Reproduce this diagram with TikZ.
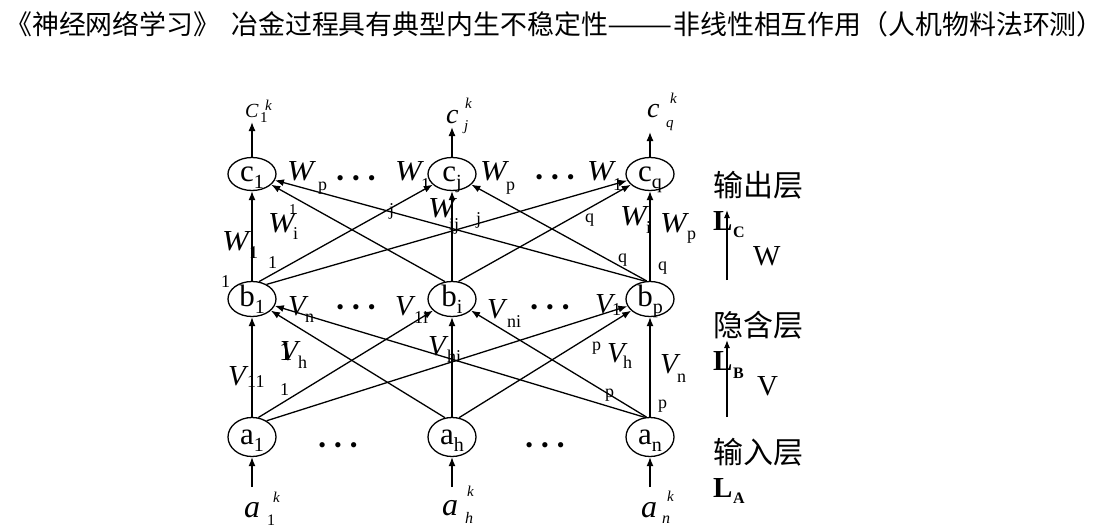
\documentclass[tikz,border=0pt]{standalone}
\usepackage{fontspec}
\usepackage{graphicx}
\setmainfont{Liberation Serif}
\newfontfamily\cjk{Noto Sans CJK SC}
\usetikzlibrary{shapes.geometric,arrows.meta}
\newcommand{\lsub}[1]{\raisebox{-0.25em}{\fontsize{20}{22}\selectfont #1}}
\newcommand{\tridots}{\textbullet\hspace{8pt}\textbullet\hspace{8pt}\textbullet}
\newcommand{\WW}{\scalebox{1.1}[1]{W}}
\begin{document}
\begin{tikzpicture}[x=1pt,y=-1pt,
  neuron/.style={ellipse, draw, line width=1.3pt, minimum width=48pt, minimum height=35pt,
    inner sep=0pt, text height=14pt, text depth=0pt, font=\fontsize{31}{33}\selectfont},
  conn/.style={line width=1.3pt, -{Latex[length=9pt,width=7pt]}},
  wl/.style={anchor=base west, inner sep=0pt, font=\fontsize{29}{31}\selectfont\itshape},
  sl/.style={anchor=base west, inner sep=0pt, font=\fontsize{18}{20}\selectfont},
  kl/.style={anchor=base west, inner sep=0pt, font=\fontsize{15}{17}\selectfont\itshape},
  ul/.style={anchor=base west, inner sep=0pt, font=\fontsize{15}{17}\selectfont},
  dl/.style={inner sep=0pt, font=\fontsize{22}{24}\selectfont},
  cjl/.style={anchor=west, inner sep=0pt, font=\cjk\fontsize{30}{32}\selectfont},
  bl/.style={anchor=base west, inner sep=0pt, font=\fontsize{29}{31}\selectfont\bfseries},
  bsl/.style={anchor=base west, inner sep=0pt, font=\fontsize{16}{18}\selectfont\bfseries},
  rl/.style={anchor=base west, inner sep=0pt, font=\fontsize{29}{31}\selectfont}]
\useasboundingbox (0,0) rectangle (1104,528);

% title
\node[anchor=west, inner sep=0pt, font=\cjk\fontsize{26.9}{29}\selectfont] (title) at (5,24)
  {《神经网络学习》\hspace{11pt}冶金过程具有典型内生不稳定性\scalebox{1.45}[1]{——}非线性相互作用（人机物料法环测）};

% neurons
\node[neuron, minimum height=33pt] (c1) at (252,174) {c\lsub{1}};
\node[neuron, minimum height=33pt] (cj) at (452,174) {c\lsub{j}};
\node[neuron, minimum height=33pt] (cq) at (650,174) {c\lsub{q}};
\node[neuron] (b1) at (252,299) {b\lsub{1}};
\node[neuron] (bi) at (452,299) {b\lsub{i}};
\node[neuron] (bp) at (650,299) {b\lsub{p}};
\node[neuron, minimum height=39pt] (a1) at (252,437) {a\lsub{1}};
\node[neuron, minimum height=39pt] (ah) at (452,437) {a\lsub{h}};
\node[neuron, minimum height=39pt] (an) at (650,437) {a\lsub{n}};

% free ends
\coordinate (o1) at (252,122);
\coordinate (oj) at (452,127);
\coordinate (oq) at (650,132);
\coordinate (i1) at (252,487);
\coordinate (ih) at (452,487);
\coordinate (in) at (650,487);

\draw[conn] (c1) -- (o1);
\draw[conn] (cj) -- (oj);
\draw[conn] (cq) -- (oq);
\draw[conn] (i1) -- (a1);
\draw[conn] (ih) -- (ah);
\draw[conn] (in) -- (an);

% input -> hidden
\draw[conn] (a1) -- (b1);
\draw[conn] (a1.72) -- (bi);
\draw[conn] (a1.48) -- (bp);
\draw[conn] (ah.110) -- (b1);
\draw[conn] (ah) -- (bi);
\draw[conn] (ah.70) -- (bp);
\draw[conn] (an.105) -- (b1);
\draw[conn] (an.100) -- (bi);
\draw[conn] (an) -- (bp);

% hidden -> output
\draw[conn] (b1) -- (c1);
\draw[conn] (b1.68) -- (cj);
\draw[conn] (b1.45) -- (cq);
\draw[conn] (bi.112) -- (c1);
\draw[conn] (bi) -- (cj);
\draw[conn] (bi.70) -- (cq);
\draw[conn] (bp.105) -- (c1);
\draw[conn] (bp.100) -- (cj);
\draw[conn] (bp) -- (cq);

% output labels
\node[wl, font=\fontsize{20}{22}\selectfont\itshape] (lc1) at (245,117) {C};
\node[ul] (lc1s) at (260,122) {1};
\node[kl] (lc1k) at (265,110) {k};
\node[wl, font=\fontsize{28}{30}\selectfont\itshape] (lcj) at (446,123) {c};
\node[kl] (lcjk) at (465,108) {k};
\node[kl] (lcjj) at (464,130) {j};
\node[wl, font=\fontsize{28}{30}\selectfont\itshape] (lcq) at (647,117) {c};
\node[kl] (lcqk) at (670,103) {k};
\node[kl] (lcqq) at (666,127) {q};

% input labels
\node[wl, font=\fontsize{32}{34}\selectfont\itshape] (la1) at (244,517) {a};
\node[kl] (la1k) at (273,502) {k};
\node[ul, font=\fontsize{16}{18}\selectfont] (la1s) at (267,525) {1};
\node[wl, font=\fontsize{32}{34}\selectfont\itshape] (lah) at (442,515) {a};
\node[kl] (lahk) at (467,496) {k};
\node[kl, font=\fontsize{16}{18}\selectfont\itshape] (lahs) at (465,523) {h};
\node[wl, font=\fontsize{32}{34}\selectfont\itshape] (lan) at (641,517) {a};
\node[kl] (lank) at (667,501) {k};
\node[kl, font=\fontsize{16}{18}\selectfont\itshape] (lans) at (662,523) {n};

% top row weights
\node[wl] (tw1) at (287,180) {\WW};
\node[sl] (tw1s) at (318,190) {p};
\node[dl] (d1) at (356,181) {\tridots};
\node[wl] (tw2) at (395,180) {\WW};
\node[sl] (tw2s) at (421,190) {1};
\node[wl] (tw3) at (480,180) {\WW};
\node[sl] (tw3s) at (506,190) {p};
\node[dl] (d2) at (555,180) {\tridots};
\node[wl] (tw4) at (587,180) {\WW};
\node[sl] (tw4s) at (613,190) {1};

% second row weights
\node[wl] (mw1) at (268,232) {\WW};
\node[ul] (mw1u) at (289,214) {1};
\node[sl] (mw1s) at (293,239) {i};
\node[sl] (ja) at (389,215) {j};
\node[wl] (mw2) at (428,217) {\WW};
\node[sl] (mw2s) at (449,230) {ij};
\node[sl] (jb) at (476,224) {j};
\node[sl] (qa) at (585,222) {q};
\node[wl] (mw3) at (620,225) {\WW};
\node[sl] (mw3s) at (646,233) {i};
\node[wl] (mw4) at (660,232) {\WW};
\node[sl] (mw4s) at (687,239) {p};
\node[sl] (qb) at (618,262) {q};
\node[sl] (qc) at (658,270) {q};
\node[wl] (mw5) at (222,250) {\WW};
\node[sl] (mw5s) at (249,258) {1};
\node[sl] (onea) at (268,268) {1};
\node[sl] (oneb) at (221,287) {1};

% hidden row weights
\node[wl] (v1) at (288,315) {V};
\node[sl] (v1s) at (305,322) {n};
\node[dl] (d3) at (356,310) {\tridots};
\node[wl] (v2) at (395,315) {V};
\node[sl] (v2s) at (414,323) {1i};
\node[wl] (v3) at (487,318) {V};
\node[sl] (v3s) at (507,327) {ni};
\node[dl] (d4) at (550,310) {\tridots};
\node[wl] (v4) at (595,313) {V};
\node[sl] (v4s) at (612,315) {1};

% lower row weights
\node[rl, font=\fontsize{27}{29}\selectfont] (onev) at (279,360) {1};
\node[wl] (v5) at (280,360) {V};
\node[sl] (v5s) at (298,368) {h};
\node[wl] (v6) at (228,385) {V};
\node[sl] (v6s) at (247,387) {11};
\node[sl] (onec) at (280,395) {1};
\node[wl] (v7) at (428,355) {V};
\node[sl] (v7s) at (447,362) {hi};
\node[sl] (pa) at (592,350) {p};
\node[wl] (v8) at (607,362) {V};
\node[sl] (v8s) at (623,368) {h};
\node[wl] (v9) at (660,373) {V};
\node[sl] (v9s) at (677,382) {n};
\node[sl] (pb) at (605,397) {p};
\node[sl] (pc) at (658,408) {p};

% bottom dots
\node[dl] (d5) at (338,448) {\tridots};
\node[dl] (d6) at (545,448) {\tridots};

% layer labels
\node[cjl] (lay3) at (713,185) {输出层};
\node[cjl] (lay2) at (713,325) {隐含层};
\node[cjl] (lay1) at (713,452) {输入层};
\node[bl] (lcL) at (713,230) {L};
\node[bsl] (lcC) at (733,237) {C};
\node[rl] (lW) at (753,265) {W};
\node[bl] (lbL) at (713,370) {L};
\node[bsl] (lbB) at (733,378) {B};
\node[rl] (lV) at (757,395) {V};
\node[bl] (laL) at (713,497) {L};
\node[bsl] (laA) at (733,503) {A};
\coordinate (ra0) at (727,280);
\coordinate (ra1) at (727,210);
\coordinate (rb0) at (727,417);
\coordinate (rb1) at (727,340);
\draw[conn, line width=1.2pt, -{Latex[length=8pt,width=6pt]}] (ra0) -- (ra1);
\draw[conn, line width=1.2pt, -{Latex[length=8pt,width=6pt]}] (rb0) -- (rb1);
\end{tikzpicture}
\end{document}
